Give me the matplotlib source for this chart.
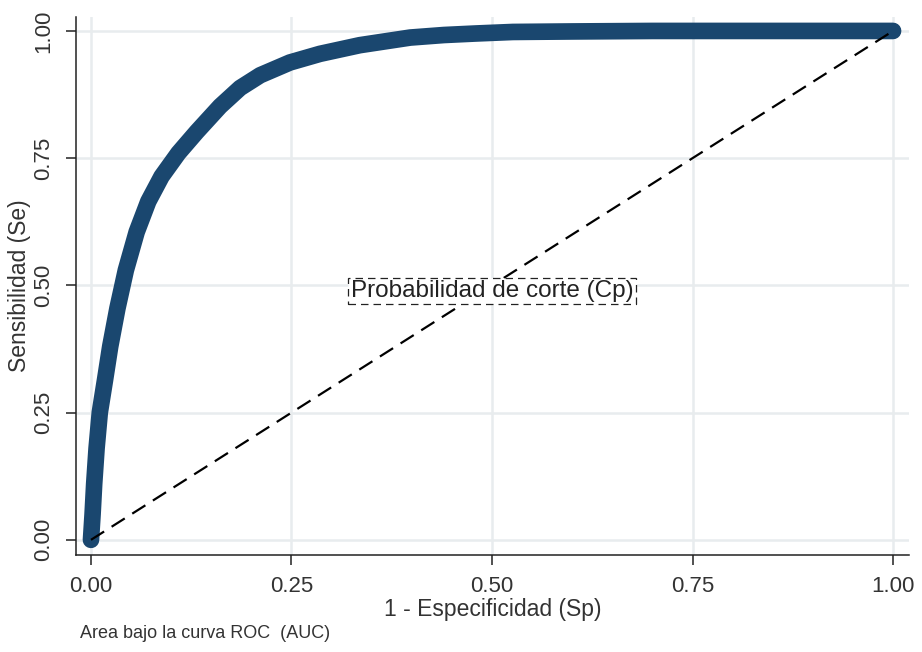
import matplotlib
matplotlib.use("Agg")
import matplotlib.pyplot as plt

# ROC curve: false positive rate (1 - specificity) vs. sensitivity
fpr = [0.0, 0.002, 0.004, 0.007, 0.011, 0.0175, 0.024, 0.033, 0.0435, 0.057,
       0.0715, 0.088, 0.109, 0.132, 0.161, 0.186, 0.211, 0.248, 0.2855, 0.335,
       0.398, 0.44, 0.48, 0.526, 0.6, 0.7, 0.8, 0.9, 1.0]
tpr = [0.0, 0.05, 0.11, 0.18, 0.25, 0.314, 0.38, 0.455, 0.53, 0.605,
       0.665, 0.714, 0.76, 0.802, 0.852, 0.888, 0.913, 0.938, 0.955, 0.972,
       0.987, 0.992, 0.995, 0.998, 0.999, 1.0, 1.0, 1.0, 1.0]

# Reference (chance) line
ref_x = [0.0, 1.0]
ref_y = [0.0, 1.0]

ticks = [0.0, 0.25, 0.50, 0.75, 1.0]
tick_labels = ["0.00", "0.25", "0.50", "0.75", "1.00"]

cutoff_label = "Probabilidad de corte (Cp)"
cutoff_pos = (0.5, 0.489)

plt.rcParams["font.family"] = ["Liberation Sans", "DejaVu Sans"]

fig = plt.figure(figsize=(9.22, 6.52), dpi=100)
ax = fig.add_axes([0.0824, 0.149, 0.9036, 0.825])

grid_color = "#e8ecee"
for t in ticks:
    ax.axhline(t, color=grid_color, lw=1.8, zorder=0)
    ax.axvline(t, color=grid_color, lw=1.8, zorder=0)

ax.plot(fpr, tpr, color="#1a476f", lw=12, solid_capstyle="round",
        solid_joinstyle="round", zorder=2)
ax.plot(ref_x, ref_y, color="black", lw=1.6, dashes=(7, 4), zorder=3)

ax.text(cutoff_pos[0], cutoff_pos[1], cutoff_label, fontsize=17.5,
        ha="center", va="center", color="#222222", zorder=4,
        bbox=dict(boxstyle="square,pad=0.1", fc="white", ec="#222222",
                  lw=0.9, ls=(0, (6, 4))))

ax.set_xlim(-0.0187, 1.02)
ax.set_ylim(-0.0295, 1.0275)
ax.set_xticks(ticks)
ax.set_xticklabels(tick_labels)
ax.set_yticks(ticks)
ax.set_yticklabels(tick_labels, rotation=90, va="center")

for side in ("top", "right"):
    ax.spines[side].set_visible(False)
for side in ("left", "bottom"):
    ax.spines[side].set_linewidth(1.1)
    ax.spines[side].set_color("#222222")

ax.tick_params(axis="both", direction="out", length=7, width=1.1,
               labelsize=16, colors="#222222", labelcolor="#333333")
ax.tick_params(axis="y", pad=9)
ax.tick_params(axis="x", pad=8)

ax.set_xlabel("1 - Especificidad (Sp)", fontsize=16.5, color="#333333", labelpad=1)
ax.set_ylabel("Sensibilidad (Se)", fontsize=16.5, color="#333333", labelpad=1)

fig.text(0.087, 0.029, "Area bajo la curva ROC  (AUC)", fontsize=13,
         color="#333333", ha="left", va="center")

fig.savefig("out.png", dpi=100, facecolor="white")
